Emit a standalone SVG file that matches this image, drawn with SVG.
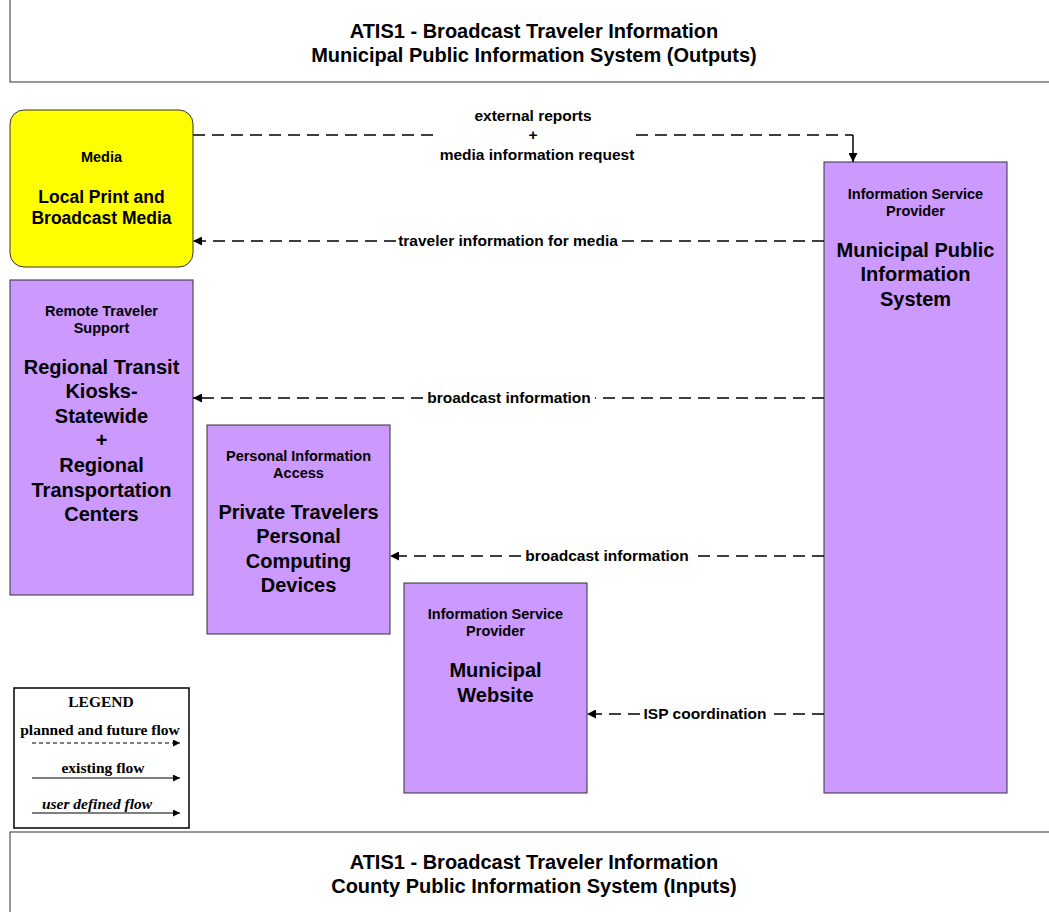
<svg xmlns="http://www.w3.org/2000/svg" width="1049" height="912" viewBox="0 0 1049 912">
<style>
.bg{fill:#ffffff}
.frame{fill:#ffffff;stroke:#333333;stroke-width:1}
.title{font-family:"Liberation Sans",Arial,sans-serif;font-weight:bold;font-size:20px;fill:#000;text-anchor:middle}
.node{fill:#CC99FF;stroke:#333333;stroke-width:1}
.media{fill:#FFFF00;stroke:#333333;stroke-width:1}
.sm{font-family:"Liberation Sans",Arial,sans-serif;font-weight:bold;font-size:14.5px;fill:#000;text-anchor:middle}
.lg{font-family:"Liberation Sans",Arial,sans-serif;font-weight:bold;font-size:20px;fill:#000;text-anchor:middle}
.md{font-family:"Liberation Sans",Arial,sans-serif;font-weight:bold;font-size:17.5px;fill:#000;text-anchor:middle}
.flow{fill:none;stroke:#000;stroke-width:1.5;stroke-dasharray:12 7}
.solid{fill:none;stroke:#000;stroke-width:1.5}
.lbl{font-family:"Liberation Sans",Arial,sans-serif;font-weight:bold;font-size:15.5px;fill:#000;text-anchor:middle}
.leg{font-family:"Liberation Serif","Times New Roman",serif;font-weight:bold;font-size:15.5px;fill:#000;text-anchor:middle}
</style>
<defs>
<marker id="arr" markerUnits="userSpaceOnUse" markerWidth="10" markerHeight="9" refX="9" refY="4.5" orient="auto">
<path d="M0,0 L9,4.5 L0,9 z" fill="#000"/>
</marker>
<marker id="arrs" markerUnits="userSpaceOnUse" markerWidth="8" markerHeight="7" refX="7" refY="3.5" orient="auto">
<path d="M0,0 L7,3.5 L0,7 z" fill="#000"/>
</marker>
</defs>
<rect class="bg" x="0" y="0" width="1049" height="912"/>

<g id="title-top">
<rect class="frame" x="10" y="-1" width="1060" height="83"/>
<text class="title" x="534" y="38">ATIS1 - Broadcast Traveler Information</text>
<text class="title" x="534" y="62">Municipal Public Information System (Outputs)</text>
</g>

<g id="title-bottom">
<rect class="frame" x="10" y="832" width="1060" height="100"/>
<text class="title" x="534" y="869">ATIS1 - Broadcast Traveler Information</text>
<text class="title" x="534" y="893">County Public Information System (Inputs)</text>
</g>

<g id="node-media">
<rect class="media" x="10" y="110" width="183" height="157" rx="14" ry="14"/>
<text class="sm" x="101.5" y="162">Media</text>
<text class="md" x="101.5" y="203">Local Print and</text>
<text class="md" x="101.5" y="224">Broadcast Media</text>
</g>

<g id="node-remote">
<rect class="node" x="10" y="280" width="183" height="315"/>
<text class="sm" x="101.5" y="316">Remote Traveler</text>
<text class="sm" x="101.5" y="333">Support</text>
<text class="lg" x="101.5" y="374">Regional Transit</text>
<text class="lg" x="101.5" y="398">Kiosks-</text>
<text class="lg" x="101.5" y="423">Statewide</text>
<text class="lg" x="101.5" y="447">+</text>
<text class="lg" x="101.5" y="472">Regional</text>
<text class="lg" x="101.5" y="497">Transportation</text>
<text class="lg" x="101.5" y="521">Centers</text>
</g>

<g id="node-personal">
<rect class="node" x="207" y="425" width="183" height="209"/>
<text class="sm" x="298.5" y="461">Personal Information</text>
<text class="sm" x="298.5" y="478">Access</text>
<text class="lg" x="298.5" y="519">Private Travelers</text>
<text class="lg" x="298.5" y="543">Personal</text>
<text class="lg" x="298.5" y="568">Computing</text>
<text class="lg" x="298.5" y="592">Devices</text>
</g>

<g id="node-website">
<rect class="node" x="404" y="583" width="183" height="210"/>
<text class="sm" x="495.5" y="619">Information Service</text>
<text class="sm" x="495.5" y="636">Provider</text>
<text class="lg" x="495.5" y="677">Municipal</text>
<text class="lg" x="495.5" y="702">Website</text>
</g>

<g id="node-mpis">
<rect class="node" x="824" y="162" width="183" height="631"/>
<text class="sm" x="915.5" y="199">Information Service</text>
<text class="sm" x="915.5" y="216">Provider</text>
<text class="lg" x="915.5" y="257">Municipal Public</text>
<text class="lg" x="915.5" y="281">Information</text>
<text class="lg" x="915.5" y="306">System</text>
</g>

<g id="connectors">
<path class="flow" d="M193,135 H433"/>
<path class="flow" d="M636,135 H853"/>
<path class="solid" d="M853,135 V162" marker-end="url(#arr)"/>
<text class="lbl" x="533" y="121">external reports</text>
<text class="lbl" x="533" y="140">+</text>
<text class="lbl" x="537" y="160">media information request</text>

<path class="flow" d="M824,241 H621"/>
<path class="flow" d="M396,241 H193" marker-end="url(#arr)"/>
<text class="lbl" x="508" y="246">traveler information for media</text>

<path class="flow" d="M824,398 H595"/>
<path class="flow" d="M423,398 H193" marker-end="url(#arr)"/>
<text class="lbl" x="509" y="403">broadcast information</text>

<path class="flow" d="M824,556 H693"/>
<path class="flow" d="M521,556 H390" marker-end="url(#arr)"/>
<text class="lbl" x="607" y="561">broadcast information</text>

<path class="flow" d="M824,714 H769"/>
<path class="flow" d="M640,714 H587" marker-end="url(#arr)"/>
<text class="lbl" x="705" y="719">ISP coordination</text>
</g>

<g id="legend">
<rect x="14" y="688" width="175" height="140" fill="#fff" stroke="#000" stroke-width="1.5"/>
<text class="leg" x="101" y="707">LEGEND</text>
<text class="leg" x="100" y="735">planned and future flow</text>
<path d="M32,743 H180" fill="none" stroke="#000" stroke-width="1" stroke-dasharray="4 3" marker-end="url(#arrs)"/>
<text class="leg" x="103" y="773">existing flow</text>
<path d="M32,778 H180" fill="none" stroke="#000" stroke-width="1.2" marker-end="url(#arrs)"/>
<text class="leg" x="97" y="809" font-style="italic">user defined flow</text>
<path d="M32,813 H180" fill="none" stroke="#000" stroke-width="1.2" marker-end="url(#arrs)"/>
</g>
</svg>
